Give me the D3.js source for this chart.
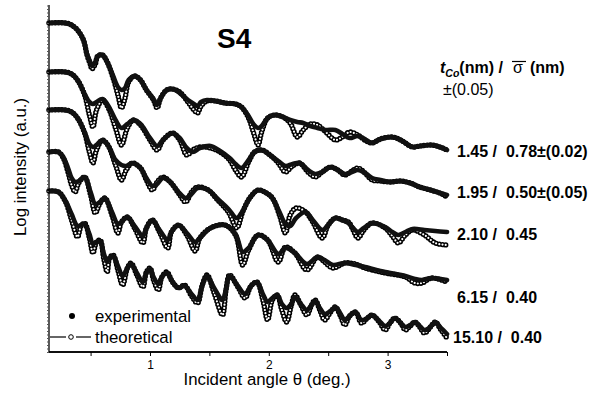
<!DOCTYPE html>
<html><head><meta charset="utf-8">
<script src="https://cdn.jsdelivr.net/npm/d3@7"></script>
<style>body{margin:0;background:#fff} svg{display:block} text{font-family:"Liberation Sans",Arial,Helvetica,sans-serif;fill:#000;white-space:pre}</style>
</head><body><svg id="c" width="589" height="395"></svg>
<script>
// ---- data: [incident angle (deg), log intensity (a.u.)] ----
const theo145=[[0.15,329],[0.29,329],[0.34,327],[0.39,322],[0.44,312],[0.47,297],[0.50,287],[0.51,283],[0.54,288],[0.56,296],[0.60,297],[0.64,290],[0.69,274],[0.73,257],[0.76,244],[0.79,254],[0.82,270],[0.87,276],[0.92,272],[0.97,262],[1.03,252],[1.06,244],[1.09,254],[1.14,262],[1.19,263],[1.25,260],[1.32,250],[1.37,242],[1.40,239],[1.43,246],[1.48,251],[1.55,251],[1.63,249],[1.72,248],[1.77,245],[1.83,234],[1.87,220],[1.91,207],[1.94,220],[1.99,234],[2.05,237],[2.12,235],[2.18,229],[2.24,215],[2.29,222],[2.35,228],[2.41,227],[2.48,220],[2.56,212],[2.62,215],[2.68,220],[2.75,217],[2.82,211],[2.87,209],[2.94,213],[3.04,215],[3.11,212],[3.21,205],[3.27,206],[3.37,207],[3.44,205],[3.50,202]];
const exp145=[[0.15,329],[0.29,329],[0.34,327],[0.39,322],[0.44,312],[0.47,298],[0.50,289],[0.51,286],[0.54,290],[0.56,296],[0.60,297],[0.64,290],[0.69,276],[0.73,265],[0.76,262],[0.79,264],[0.82,272],[0.87,276],[0.92,272],[0.97,262],[1.03,253],[1.06,247],[1.09,254],[1.14,262],[1.19,263],[1.25,259],[1.32,252],[1.37,248],[1.40,246],[1.43,250],[1.48,252],[1.55,251],[1.63,249],[1.72,248],[1.77,245],[1.83,236],[1.87,228],[1.91,224],[1.94,226],[1.99,234],[2.05,237],[2.12,235],[2.18,232],[2.24,230],[2.29,229],[2.35,226],[2.41,224],[2.48,222],[2.56,222],[2.62,218],[2.68,214],[2.75,216],[2.82,212],[2.87,209],[2.94,213],[3.04,215],[3.11,212],[3.21,205],[3.27,206],[3.37,207],[3.44,205],[3.50,202]];

const theo195=[[0.15,280],[0.29,280],[0.34,278],[0.39,272],[0.45,257],[0.49,237],[0.52,225],[0.55,242],[0.60,252],[0.65,244],[0.71,224],[0.76,207],[0.81,224],[0.86,232],[0.92,227],[1.00,212],[1.06,202],[1.11,212],[1.19,219],[1.25,212],[1.31,197],[1.36,202],[1.42,205],[1.51,204],[1.59,200],[1.67,192],[1.72,182],[1.77,175],[1.83,190],[1.88,200],[1.94,202],[2.01,197],[2.08,189],[2.14,180],[2.20,186],[2.26,189],[2.33,180],[2.39,175],[2.45,180],[2.52,185],[2.58,182],[2.64,177],[2.70,181],[2.75,184],[2.81,179],[2.87,172],[2.94,171],[3.02,170],[3.11,171],[3.19,169],[3.27,165],[3.36,162],[3.44,159],[3.50,155]];
const exp195=[[0.15,280],[0.29,280],[0.34,278],[0.39,272],[0.45,258],[0.49,250],[0.52,248],[0.55,250],[0.60,253],[0.65,246],[0.71,232],[0.76,224],[0.81,228],[0.86,232],[0.92,228],[1.00,214],[1.06,206],[1.11,212],[1.19,219],[1.25,214],[1.31,204],[1.36,200],[1.42,204],[1.51,206],[1.59,201],[1.67,194],[1.72,188],[1.77,184],[1.83,192],[1.88,200],[1.94,202],[2.01,197],[2.08,191],[2.14,186],[2.20,188],[2.26,189],[2.33,182],[2.39,178],[2.45,180],[2.52,185],[2.58,182],[2.64,178],[2.70,180],[2.75,182],[2.81,179],[2.87,174],[2.94,172],[3.02,170],[3.11,171],[3.19,169],[3.27,165],[3.36,162],[3.44,159],[3.50,157]];

const theo210=[[0.15,242],[0.29,242],[0.34,240],[0.39,234],[0.45,219],[0.49,200],[0.52,189],[0.55,202],[0.60,212],[0.65,206],[0.71,187],[0.76,172],[0.80,182],[0.85,189],[0.92,184],[0.97,172],[1.02,162],[1.06,170],[1.11,175],[1.17,170],[1.24,159],[1.30,150],[1.35,160],[1.40,165],[1.49,162],[1.57,152],[1.66,140],[1.73,124],[1.78,140],[1.84,154],[1.91,162],[1.98,159],[2.03,154],[2.09,137],[2.14,119],[2.18,137],[2.23,144],[2.31,140],[2.37,130],[2.45,114],[2.50,127],[2.56,134],[2.62,132],[2.67,130],[2.71,122],[2.75,114],[2.80,122],[2.87,129],[2.98,124],[3.04,116],[3.09,109],[3.15,117],[3.21,122],[3.31,117],[3.40,109],[3.50,107]];
const exp210=[[0.15,242],[0.29,242],[0.34,240],[0.39,234],[0.45,220],[0.49,208],[0.52,205],[0.55,207],[0.60,212],[0.65,206],[0.71,192],[0.76,187],[0.80,186],[0.85,189],[0.92,184],[0.97,174],[1.02,166],[1.06,168],[1.11,174],[1.17,170],[1.24,160],[1.30,154],[1.35,158],[1.40,164],[1.49,162],[1.57,153],[1.66,143],[1.73,134],[1.78,141],[1.84,154],[1.91,162],[1.98,159],[2.03,154],[2.09,140],[2.14,128],[2.18,126],[2.23,134],[2.31,140],[2.37,132],[2.45,122],[2.50,127],[2.56,134],[2.62,132],[2.67,129],[2.71,124],[2.75,120],[2.80,124],[2.87,129],[2.98,125],[3.04,120],[3.09,117],[3.15,120],[3.21,123],[3.31,122],[3.40,121],[3.50,120]];

const theo615=[[0.15,200],[0.23,200],[0.27,194],[0.31,180],[0.34,167],[0.37,160],[0.40,169],[0.45,175],[0.50,157],[0.54,139],[0.58,149],[0.62,154],[0.68,137],[0.73,119],[0.76,130],[0.81,135],[0.87,124],[0.94,109],[0.97,124],[1.02,132],[1.08,120],[1.15,104],[1.18,120],[1.24,127],[1.31,117],[1.38,101],[1.42,114],[1.51,124],[1.63,127],[1.72,117],[1.78,87],[1.83,102],[1.91,117],[1.99,112],[2.08,90],[2.14,105],[2.22,99],[2.32,82],[2.41,95],[2.47,90],[2.54,84],[2.64,89],[2.73,88],[2.81,84],[2.98,79],[3.15,75],[3.23,69],[3.29,69],[3.37,74],[3.50,70]];
const exp615=[[0.15,200],[0.23,200],[0.27,195],[0.31,184],[0.34,174],[0.37,170],[0.40,171],[0.45,175],[0.50,160],[0.54,148],[0.58,150],[0.62,154],[0.68,140],[0.73,128],[0.76,130],[0.81,135],[0.87,126],[0.94,116],[0.97,124],[1.02,132],[1.08,122],[1.15,112],[1.18,120],[1.24,127],[1.31,119],[1.38,110],[1.42,114],[1.51,124],[1.63,127],[1.72,118],[1.78,100],[1.83,104],[1.91,117],[1.99,112],[2.08,98],[2.14,104],[2.22,99],[2.32,88],[2.41,95],[2.47,92],[2.54,87],[2.64,89],[2.73,87],[2.81,85],[2.98,80],[3.15,76],[3.23,73],[3.29,72],[3.37,74],[3.50,72]];

const theo1510=[[0.15,161],[0.23,160],[0.29,150],[0.34,132],[0.39,115],[0.42,126],[0.45,129],[0.49,114],[0.52,99],[0.55,110],[0.58,112],[0.61,94],[0.64,80],[0.66,94],[0.69,97],[0.73,82],[0.77,67],[0.81,84],[0.84,89],[0.89,77],[0.94,65],[0.97,80],[1.00,84],[1.03,72],[1.07,62],[1.10,75],[1.14,80],[1.19,70],[1.24,64],[1.29,67],[1.35,56],[1.40,49],[1.44,67],[1.48,77],[1.54,59],[1.61,37],[1.64,62],[1.67,77],[1.74,65],[1.80,54],[1.85,66],[1.90,70],[1.95,52],[1.99,32],[2.03,52],[2.07,57],[2.11,42],[2.15,30],[2.19,47],[2.22,57],[2.27,47],[2.32,37],[2.36,47],[2.39,52],[2.43,42],[2.47,32],[2.52,40],[2.56,45],[2.60,37],[2.64,27],[2.68,36],[2.73,40],[2.78,29],[2.83,34],[2.87,37],[2.93,30],[2.98,22],[3.02,29],[3.06,34],[3.11,29],[3.15,22],[3.19,26],[3.23,30],[3.27,25],[3.31,19],[3.36,25],[3.40,30],[3.45,22],[3.50,14]];
const exp1510=[[0.15,161],[0.23,160],[0.29,151],[0.34,138],[0.39,126],[0.42,127],[0.45,128],[0.49,118],[0.52,108],[0.55,110],[0.58,111],[0.61,99],[0.64,90],[0.66,94],[0.69,96],[0.73,86],[0.77,76],[0.81,84],[0.84,88],[0.89,79],[0.94,70],[0.97,79],[1.00,83],[1.03,75],[1.07,68],[1.10,75],[1.14,79],[1.19,70],[1.24,64],[1.29,66],[1.35,58],[1.40,52],[1.44,66],[1.48,76],[1.54,64],[1.61,52],[1.64,63],[1.67,76],[1.74,66],[1.80,58],[1.85,66],[1.90,70],[1.95,58],[1.99,50],[2.03,54],[2.07,57],[2.11,48],[2.15,44],[2.19,48],[2.22,55],[2.27,48],[2.32,42],[2.36,47],[2.39,51],[2.43,44],[2.47,38],[2.52,41],[2.56,45],[2.60,39],[2.64,32],[2.68,36],[2.73,40],[2.78,32],[2.83,34],[2.87,37],[2.93,31],[2.98,26],[3.02,29],[3.06,34],[3.11,29],[3.15,25],[3.19,27],[3.23,30],[3.27,26],[3.31,22],[3.36,25],[3.40,30],[3.45,24],[3.50,18]];

const sampleLabels=["1.45 /  0.78±(0.02)","1.95 /  0.50±(0.05)","2.10 /  0.45","6.15 /  0.40","15.10 /  0.40"];
const xMajorTicks=[1,2,3];
const xMinorTicks=[0.5,1.5,2.5,3.5];
const legendLabels=["experimental","theoretical"];

// ---- layout ----
const svg=d3.select("#c");
const x=d3.scaleLinear().domain([0.15,3.5]).range([49,447]);
const y=d3.scaleLinear().domain([0,347]).range([352,5]);
const line=d3.line().x(d=>x(d[0])).y(d=>y(d[1])).curve(d3.curveCatmullRom.alpha(0.5));

const theos=[theo145,theo195,theo210,theo615,theo1510];
const exps=[exp145,exp195,exp210,exp615,exp1510];

const g=svg.append("g");
theos.forEach((t,i)=>{
  g.append("path").attr("d",line(t)).attr("fill","none").attr("stroke","#000")
   .attr("stroke-width",5.4).attr("stroke-linecap","round").attr("stroke-dasharray","0 3.2");
  g.append("path").attr("d",line(t)).attr("fill","none").attr("stroke","#fff")
   .attr("stroke-width",2.2).attr("stroke-linecap","round").attr("stroke-dasharray","0 3.2");
});
exps.forEach(e=>{
  g.append("path").attr("d",line(e)).attr("fill","none").attr("stroke","#111")
   .attr("stroke-width",4.6).attr("stroke-linejoin","round").attr("stroke-linecap","round");
});

// axes
const xa=svg.append("g").attr("transform","translate(0,352)");
xa.call(d3.axisBottom(x).tickValues(xMajorTicks).tickSize(4).tickPadding(4).tickFormat(d3.format("d")));
xa.append("g").call(d3.axisBottom(x).tickValues(xMinorTicks).tickSize(4).tickFormat(""));
xa.selectAll(".domain").attr("stroke","#000").attr("stroke-width",1.3).attr("d","M49,0H447");
xa.selectAll("text").style("font-size","12px").style("font-family","'Liberation Sans',Arial,sans-serif");

const ya=svg.append("g").attr("transform","translate(49,0)");
ya.call(d3.axisLeft(y).tickValues(d3.range(0,348,3.5)).tickSize(2).tickFormat(""));
ya.selectAll(".domain").attr("stroke","#000").attr("stroke-width",1.3).attr("d","M0,5V352");
ya.selectAll(".tick line").attr("stroke","#555");

// titles
svg.append("text").attr("x",267).attr("y",385).attr("text-anchor","middle").style("font-size","16.8px").text("Incident angle θ (deg.)");
svg.append("text").attr("transform","translate(26,167) rotate(-90)").attr("text-anchor","middle").style("font-size","16.8px").text("Log intensity (a.u.)");
svg.append("text").attr("x",217).attr("y",48).style("font-size","28px").style("font-weight","bold").text("S4");

// header
const h=svg.append("text").attr("x",440).attr("y",73).style("font-size","16px").style("font-weight","bold");
h.append("tspan").style("font-style","italic").text("t");
h.append("tspan").style("font-style","italic").style("font-size","10.5px").attr("dy",4).text("Co");
h.append("tspan").attr("dy",-4).text("(nm) / ");
svg.append("text").attr("x",513).attr("y",73).style("font-size","16px").text("σ");
svg.append("line").attr("x1",512).attr("x2",526).attr("y1",61.5).attr("y2",61.5).attr("stroke","#000").attr("stroke-width",1.2);
svg.append("text").attr("x",530).attr("y",73).style("font-size","16px").style("font-weight","bold").text("(nm)");
svg.append("text").attr("x",443).attr("y",95).style("font-size","16px").text("±(0.05)");

// right labels
const labelY=[157,198,240,303,343];
const labelX=[457,457,457,457,453];
sampleLabels.forEach((s,i)=>{
  svg.append("text").attr("x",labelX[i]).attr("y",labelY[i]).style("font-size","16px").style("font-weight","bold").text(s);
});

// legend
svg.append("circle").attr("cx",72).attr("cy",316).attr("r",3).attr("fill","#000");
svg.append("text").attr("x",95).attr("y",322).style("font-size","16.8px").text(legendLabels[0]);
svg.append("line").attr("x1",50).attr("x2",66).attr("y1",337).attr("y2",337).attr("stroke","#000").attr("stroke-width",1.2);
svg.append("line").attr("x1",76).attr("x2",91).attr("y1",337).attr("y2",337).attr("stroke","#000").attr("stroke-width",1.2);
svg.append("circle").attr("cx",71).attr("cy",337).attr("r",2.3).attr("fill","#fff").attr("stroke","#000").attr("stroke-width",1);
svg.append("text").attr("x",95).attr("y",343).style("font-size","16.8px").text(legendLabels[1]);
</script></body></html>
